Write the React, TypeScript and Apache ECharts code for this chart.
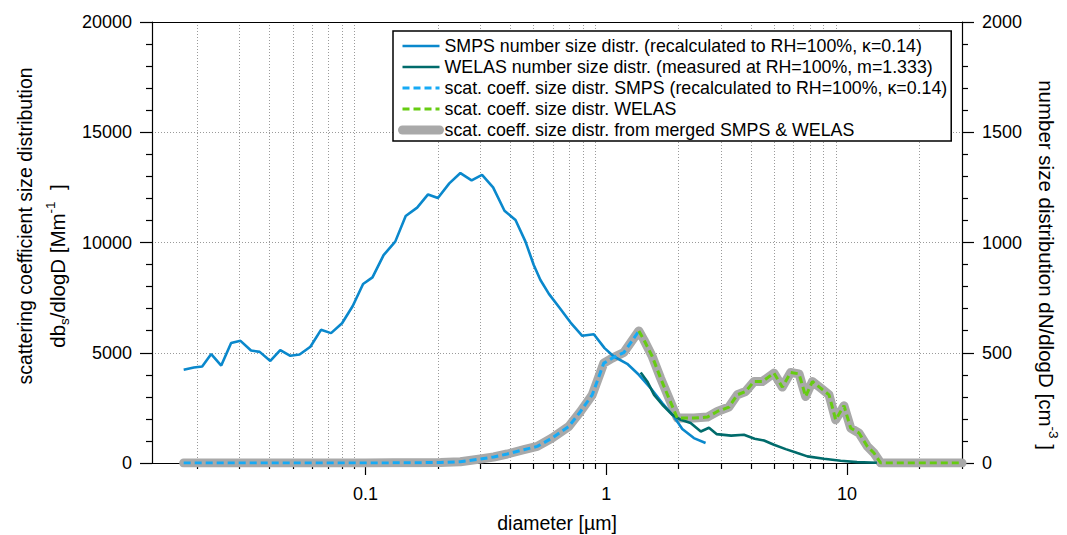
import React, { useEffect, useRef } from "react";
import * as echarts from "echarts";

// ---------- data ----------
const smpsDiam = [0.0176, 0.0194, 0.021, 0.0229, 0.0252, 0.0277, 0.0303, 0.0335, 0.0364, 0.0403, 0.0443, 0.0488, 0.0533, 0.0591, 0.0654, 0.072, 0.08, 0.0886, 0.0978, 0.107, 0.119, 0.133, 0.147, 0.164, 0.182, 0.2, 0.223, 0.248, 0.276, 0.305, 0.339, 0.378, 0.42, 0.462, 0.5, 0.533, 0.578, 0.642, 0.711, 0.795, 0.888, 0.984, 1.075, 1.222, 1.366, 1.528, 1.709, 1.909, 2.069, 2.311, 2.585];
const smpsNumber = [423, 433, 438, 494, 442, 544, 554, 510, 504, 463, 512, 486, 492, 527, 604, 589, 634, 712, 812, 842, 943, 1004, 1120, 1158, 1218, 1202, 1268, 1315, 1282, 1307, 1250, 1144, 1102, 1004, 898, 830, 767, 702, 637, 577, 584, 521, 483, 450, 400, 340, 272, 211, 154, 113, 91];

const welasDiam = [1.39, 1.48, 1.58, 1.71, 1.88, 2.04, 2.24, 2.47, 2.67, 2.87, 3.3, 3.73, 4.13, 4.52, 4.97, 5.56, 6.22, 6.84, 8.02, 9.4, 11.0, 13.3];
const welasNumber = [410, 370, 309, 264, 219, 196, 181, 143, 160, 131, 124, 128, 110, 102, 83, 63, 45, 30, 19, 10, 4, 1];

const scatSmpsDiam = [0.0176, 0.025, 0.035, 0.05, 0.07, 0.1, 0.13, 0.165, 0.205, 0.248, 0.3, 0.341, 0.388, 0.455, 0.517, 0.596, 0.699, 0.782, 0.875, 0.977, 1.059, 1.183, 1.366];
const scatSmps = [0, 0, 0, 0, 0, 2, 6, 14, 27, 59, 181, 272, 408, 602, 752, 1132, 1658, 2337, 3093, 4529, 4755, 5009, 5990];

const scatWelasDiam = [1.366, 1.433, 1.553, 1.681, 1.82, 1.972, 2.311, 2.628, 2.892, 3.231, 3.501, 3.791, 4.104, 4.447, 4.97, 5.385, 5.831, 6.315, 6.73, 7.176, 7.768, 8.413, 8.966, 9.707, 10.35, 11.21, 12.14, 12.93, 13.79, 16, 19, 23, 27, 30];
const scatWelas = [5990, 5585, 4829, 3850, 2944, 2038, 2038, 2083, 2337, 2536, 3093, 3243, 3696, 3696, 4076, 3442, 4103, 4044, 3016, 3696, 3397, 3093, 1961, 2595, 1585, 1359, 752, 453, 0, 0, 0, 0, 0, 0];

const xMinorTicks = [0.02, 0.03, 0.04, 0.05, 0.06, 0.07, 0.08, 0.09, 0.2, 0.3, 0.4, 0.5, 0.6, 0.7, 0.8, 0.9, 2, 3, 4, 5, 6, 7, 8, 9, 20, 30];
const xMajorTicks = [0.1, 1, 10];
const xTickLabels = ["0.1", "1", "10"];
const xRange = [0.013, 30];

const names = [
  "SMPS number size distr. (recalculated to RH=100%, \u03ba=0.14)",
  "WELAS number size distr. (measured at RH=100%, m=1.333)",
  "scat. coeff. size distr. SMPS (recalculated to RH=100%, \u03ba=0.14)",
  "scat. coeff. size distr. WELAS",
  "scat. coeff. size distr. from merged SMPS & WELAS",
];
const colors = ["#0a88cc", "#006b6b", "#16aaf5", "#66cc11", "#a9a9a9"];

const FONT = "'Liberation Sans', Arial, sans-serif";

const pairs = (d: number[], v: number[]) => d.map((x, i) => [Math.log10(x), v[i]]);

export default function App() {
  const ref = useRef<HTMLDivElement>(null);
  useEffect(() => {
    if (!ref.current) return;
    const chart = echarts.init(ref.current, undefined, { renderer: "svg" });
    const xMin = Math.log10(xRange[0]);
    const xMax = Math.log10(xRange[1]);
    const minorLogs = xMinorTicks.map(Math.log10);
    const majorLogs = xMajorTicks.map(Math.log10);
    const axisLineStyle = { color: "#000", width: 1.2 };
    const gridStyle = { color: "#9a9a9a", type: [1, 2] as any, width: 1 };
    const merged = pairs(scatSmpsDiam, scatSmps).concat(pairs(scatWelasDiam, scatWelas).slice(1));
    const plain = (v: number) => String(v);

    const option: any = {
      animation: false,
      textStyle: { fontFamily: FONT },
      grid: { left: 152, right: 105, top: 22, bottom: 72, containLabel: false, outerBoundsMode: "none" },
      xAxis: [
        {
          type: "value", min: xMin, max: xMax, position: "bottom",
          axisLine: { show: true, onZero: false, lineStyle: axisLineStyle },
          axisTick: { show: true, length: 6, customValues: minorLogs, lineStyle: axisLineStyle },
          axisLabel: { show: false },
          splitLine: { show: true, lineStyle: gridStyle },
        },
        {
          type: "value", min: xMin, max: xMax, position: "bottom",
          axisLine: { show: false, onZero: false },
          axisTick: { show: true, length: 12, customValues: majorLogs, lineStyle: axisLineStyle },
          axisLabel: {
            show: true, customValues: majorLogs, fontSize: 18, color: "#000", margin: 22, fontFamily: FONT,
            formatter: (v: number) => {
              const i = majorLogs.findIndex((m) => Math.abs(m - v) < 1e-6);
              return i >= 0 ? xTickLabels[i] : "";
            },
          },
          splitLine: { show: false },
          name: "diameter [\u00b5m]", nameLocation: "middle", nameGap: 50,
          nameTextStyle: { fontSize: 19.5, color: "#000", fontFamily: FONT },
        },
        {
          type: "value", min: xMin, max: xMax, position: "top",
          axisLine: { show: true, onZero: false, lineStyle: axisLineStyle },
          axisTick: { show: false }, axisLabel: { show: false }, splitLine: { show: false },
        },
      ],
      yAxis: [
        {
          type: "value", min: 0, max: 20000, interval: 5000, position: "left",
          axisLine: { show: true, onZero: false, lineStyle: axisLineStyle },
          axisTick: { show: true, length: 12, lineStyle: axisLineStyle },
          minorTick: { show: true, splitNumber: 5, length: 6, lineStyle: axisLineStyle },
          axisLabel: { fontSize: 18, color: "#000", margin: 20, fontFamily: FONT, formatter: plain },
          splitLine: { show: true, lineStyle: gridStyle },
        },
        {
          type: "value", min: 0, max: 2000, interval: 500, position: "right",
          axisLine: { show: true, onZero: false, lineStyle: axisLineStyle },
          axisTick: { show: true, length: 12, lineStyle: axisLineStyle },
          minorTick: { show: true, splitNumber: 5, length: 6, lineStyle: axisLineStyle },
          axisLabel: { fontSize: 18, color: "#000", margin: 20, fontFamily: FONT, formatter: plain },
          splitLine: { show: false },
        },
      ],
      legend: {
        orient: "vertical", left: 393, top: 31,
        itemWidth: 37, itemHeight: 14, itemGap: 1,
        padding: [5, 4, 1, 5],
        borderColor: "#000", borderWidth: 1.5, backgroundColor: "#fff",
        textStyle: { fontSize: 17.8, color: "#000", fontFamily: FONT, lineHeight: 20 },
        itemStyle: { opacity: 0 },
        data: names.map((n, i) => ({
          name: n,
          itemStyle: { opacity: 0 },
          lineStyle: i === 4 ? { width: 9 } : i >= 2 ? { width: 3, type: [7, 4] } : { width: 2.5 },
        })),
      },
      series: [
        {
          name: names[4], type: "line", xAxisIndex: 0, yAxisIndex: 0, symbol: "none", z: 1,
          data: merged, itemStyle: { color: colors[4] },
          lineStyle: { color: colors[4], width: 9, join: "round", cap: "round" },
        },
        {
          name: names[0], type: "line", xAxisIndex: 0, yAxisIndex: 1, symbol: "none", z: 2,
          data: pairs(smpsDiam, smpsNumber), itemStyle: { color: colors[0] },
          lineStyle: { color: colors[0], width: 2.6 },
        },
        {
          name: names[1], type: "line", xAxisIndex: 0, yAxisIndex: 1, symbol: "none", z: 2,
          data: pairs(welasDiam, welasNumber), itemStyle: { color: colors[1] },
          lineStyle: { color: colors[1], width: 2.6 },
        },
        {
          name: names[2], type: "line", xAxisIndex: 0, yAxisIndex: 0, symbol: "none", z: 3,
          data: pairs(scatSmpsDiam, scatSmps), itemStyle: { color: colors[2] },
          lineStyle: { color: colors[2], width: 3, type: [7, 4] },
        },
        {
          name: names[3], type: "line", xAxisIndex: 0, yAxisIndex: 0, symbol: "none", z: 3,
          data: pairs(scatWelasDiam, scatWelas), itemStyle: { color: colors[3] },
          lineStyle: { color: colors[3], width: 3, type: [7, 4] },
        },
      ],
      graphic: [
        {
          type: "text", x: 25, y: 226, rotation: Math.PI / 2,
          style: {
            text: "scattering coefficient size distribution", fill: "#000",
            font: `19.5px ${FONT}`, align: "center", verticalAlign: "middle",
          },
        },
        {
          type: "text", x: 57, y: 266, rotation: Math.PI / 2,
          style: {
            text: "{a|db}{sub|s}{a|/dlogD [Mm}{sup|-1}{a|  ]}", fill: "#000",
            align: "center", verticalAlign: "middle",
            rich: {
              a: { fontSize: 20.5, fontFamily: FONT, lineHeight: 28, verticalAlign: "middle", fill: "#000" },
              sub: { fontSize: 13.5, fontFamily: FONT, lineHeight: 13, verticalAlign: "bottom", fill: "#000" },
              sup: { fontSize: 13.5, fontFamily: FONT, lineHeight: 13, verticalAlign: "top", fill: "#000" },
            },
          },
        },
        {
          type: "text", x: 1046, y: 265, rotation: -Math.PI / 2,
          style: {
            text: "{a|number size distribution dN/dlogD [cm}{sup|-3}{a| ]}", fill: "#000",
            align: "center", verticalAlign: "middle",
            rich: {
              a: { fontSize: 20.5, fontFamily: FONT, lineHeight: 28, verticalAlign: "middle", fill: "#000" },
              sup: { fontSize: 13.5, fontFamily: FONT, lineHeight: 13, verticalAlign: "top", fill: "#000" },
            },
          },
        },
      ],
    };
    chart.setOption(option);
    return () => chart.dispose();
  }, []);
  return (
    <div
      ref={ref}
      style={{ position: "fixed", left: 0, top: 0, width: 1067, height: 535, background: "#fff" }}
    />
  );
}
